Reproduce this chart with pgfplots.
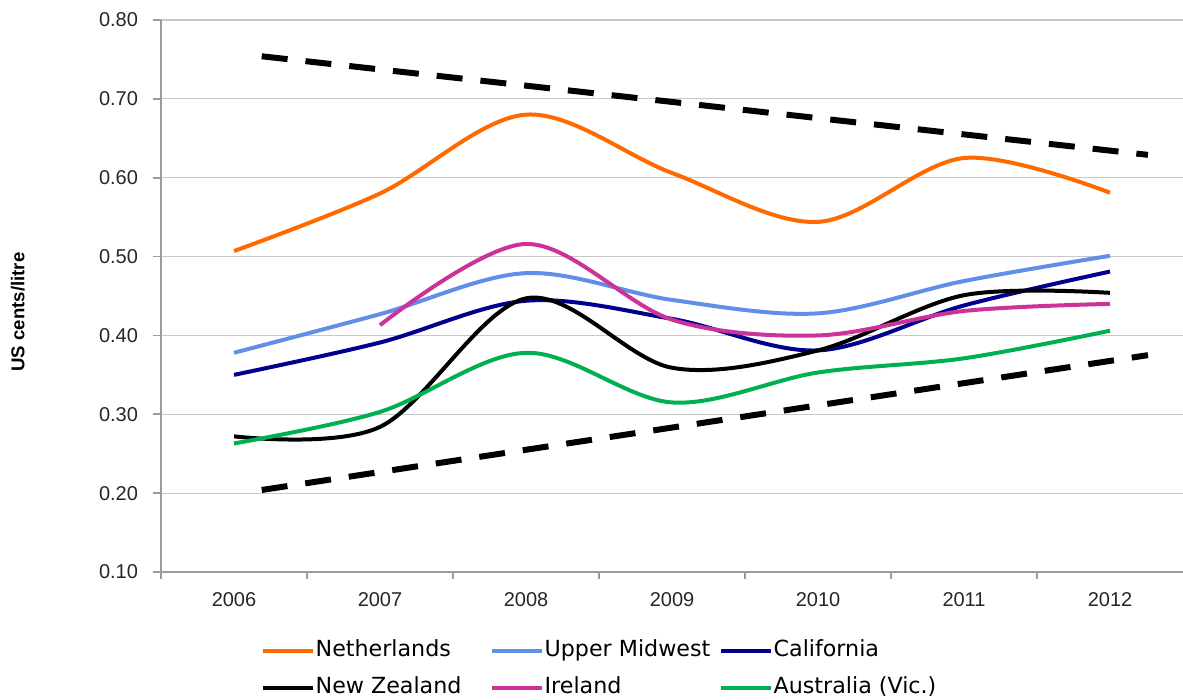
\documentclass[border=0pt]{standalone}
\usepackage{pgfplots}
\pgfplotsset{compat=1.18}
\usepackage{fontspec}
\setmainfont{Liberation Sans}
\newfontfamily\legfont{DejaVu Sans}
\definecolor{cNL}{HTML}{FF6A00}
\definecolor{cUM}{HTML}{5F8FE6}
\definecolor{cCA}{HTML}{00008F}
\definecolor{cNZ}{HTML}{000000}
\definecolor{cIE}{HTML}{CC3399}
\definecolor{cAU}{HTML}{00B050}
\definecolor{axgray}{HTML}{9C9C9C}
\definecolor{gridgray}{HTML}{C8C8C8}
\begin{document}
\begin{tikzpicture}
\useasboundingbox (0,0) rectangle (591.5pt,350pt);
\begin{axis}[
  scale only axis,
  width=511pt, height=276pt,
  at={(80.5pt,64pt)}, anchor=south west,
  xmin=2005.5, xmax=2012.5,
  ymin=0.10, ymax=0.80,
  xtick={2006,2007,2008,2009,2010,2011,2012},
  xticklabels={2006,2007,2008,2009,2010,2011,2012},
  minor xtick={2005.5,2006.5,2007.5,2008.5,2009.5,2010.5,2011.5},
  ytick={0.1,0.2,0.3,0.4,0.5,0.6,0.7,0.8},
  /pgf/number format/fixed,
  /pgf/number format/fixed zerofill,
  /pgf/number format/precision=2,
  /pgf/number format/assume math mode=true,
  axis x line*=bottom, axis y line*=left,
  axis line style={axgray, line width=0.8pt, -},
  tick align=outside,
  major tick length=4pt,
  minor tick length=3.5pt,
  xtick style={draw=none},
  minor x tick style={draw=axgray, line width=0.6pt},
  ytick style={axgray, line width=0.8pt},
  ymajorgrids,
  grid style={gridgray, line width=0.6pt},
  tick label style={font=\fontsize{10}{12}\selectfont, text=black!85},
  xticklabel style={yshift=-2.5pt},
  yticklabel style={xshift=-4pt},
  ylabel={US cents/litre},
  ylabel style={font=\fontsize{9.3}{11}\selectfont\bfseries, at={(axis description cs:-0.14,0.471)}, anchor=center, rotate=0},
  every axis plot/.append style={line width=2pt, smooth, tension=0.55},
  legend columns=3,
  legend style={draw=none, fill=none, inner sep=0pt, outer sep=0pt,
    at={(axis description cs:0.0975,-0.123)}, anchor=north west,
    font=\legfont\fontsize{11.1}{13}\selectfont,
    row sep=7.5pt, column sep=0pt,
    nodes={inner sep=0pt, text height=8.5pt, text depth=2.5pt},
    /tikz/every odd column/.append style={column sep=0.5pt}},
  legend cell align=left,
  legend image code/.code={\draw[#1] (0pt,0pt) -- (25pt,0pt);},
]
\addplot[cNL] coordinates {(2006,0.507) (2007,0.580) (2008,0.680) (2009,0.606) (2010,0.544) (2011,0.625) (2012,0.581)};
\addlegendentry{\makebox[87pt][l]{Netherlands}}
\addplot[cUM] coordinates {(2006,0.378) (2007,0.427) (2008,0.479) (2009,0.445) (2010,0.428) (2011,0.469) (2012,0.501)};
\addlegendentry{\makebox[87pt][l]{Upper Midwest}}
\addplot[cCA] coordinates {(2006,0.350) (2007,0.391) (2008,0.444) (2009,0.421) (2010,0.381) (2011,0.438) (2012,0.481)};
\addlegendentry{\makebox[87pt][l]{California}}
\addplot[cNZ] coordinates {(2006,0.272) (2007,0.284) (2008,0.447) (2009,0.359) (2010,0.381) (2011,0.451) (2012,0.454)};
\addlegendentry{\makebox[87pt][l]{New Zealand}}
\addplot[cIE] coordinates {(2007,0.413) (2008,0.516) (2009,0.420) (2010,0.400) (2011,0.431) (2012,0.440)};
\addlegendentry{\makebox[87pt][l]{Ireland}}
\addplot[cAU] coordinates {(2006,0.263) (2007,0.303) (2008,0.378) (2009,0.315) (2010,0.353) (2011,0.371) (2012,0.406)};
\addlegendentry{\makebox[87pt][l]{Australia (Vic.)}}
\addplot[black, line width=3pt, dash pattern=on 13pt off 9pt, sharp plot, forget plot] coordinates {(2006.19,0.754) (2012.26,0.629)};
\addplot[black, line width=3pt, dash pattern=on 13pt off 9pt, sharp plot, forget plot] coordinates {(2006.19,0.204) (2012.26,0.375)};
\end{axis}
\end{tikzpicture}
\end{document}
